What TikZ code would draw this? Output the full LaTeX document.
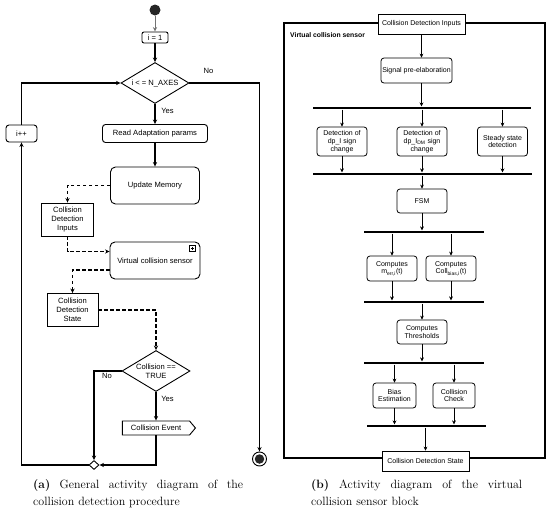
\documentclass[tikz,border=0pt]{standalone}
\usepackage{fontspec}
\setsansfont{Liberation Sans}
\usetikzlibrary{shapes.geometric,shapes.symbols,arrows.meta,calc}
\begin{document}
\begin{tikzpicture}[x=1pt,y=-1pt,
  >={Stealth[length=4.5pt,width=4.2pt]},
  L/.style={line width=1.2pt},
  R/.style={line width=0.8pt,-{Stealth[length=4pt,width=3.8pt]}},
  dsh/.style={line width=1.2pt,dash pattern=on 3.5pt off 2.5pt},
  lft/.style={font=\sffamily\fontsize{7.6}{9.2}\selectfont},
  act/.style={lft,draw,line width=0.9pt,rounded corners=3pt,fill=white,align=center,inner sep=1pt},
  obj/.style={lft,draw,line width=0.9pt,fill=white,align=center,inner sep=1pt},
  dia/.style={lft,diamond,draw,line width=0.9pt,fill=white,align=center,inner sep=0pt,aspect=1.66,minimum width=68pt,minimum height=41pt},
  rgt/.style={font=\sffamily\fontsize{7}{7.7}\selectfont},
  ract/.style={rgt,draw,line width=0.8pt,rounded corners=3pt,fill=white,align=center,inner sep=1pt},
  robj/.style={rgt,draw,line width=0.8pt,fill=white,align=center,inner sep=1pt},
  bar/.style={fill=black,inner sep=0pt,minimum height=2.8pt},
  captxt/.style={anchor=north west,inner sep=0pt,align=justify,font=\fontsize{12}{17}\selectfont}
]
\useasboundingbox (0,0) rectangle (550,512);

% ---------------- left panel ----------------
\node[circle,fill=black!85,minimum size=11pt,inner sep=0pt] (start) at (155,10) {};
\node[act,rounded corners=2pt,minimum width=26pt,minimum height=11pt] (i1) at (155,37.5) {i = 1};
\node[dia] (d1) at (155,83) {i < = N\_AXES};
\node[act,minimum width=105pt,minimum height=18pt] (rap) at (155,133.5) {Read Adaptation params};
\node[act,minimum width=31pt,minimum height=17pt] (ipp) at (21.5,133.5) {i++};
\node[act,rounded corners=5pt,minimum width=89pt,minimum height=37pt] (um) at (155,185.5) {Update Memory};
\node[obj,minimum width=52pt,minimum height=33pt] (cdi) at (67.5,219.5) {Collision\\Detection\\Inputs};
\node[act,rounded corners=5pt,minimum width=90pt,minimum height=37pt] (vcs) at (155,260.5) {Virtual collision sensor};
\node[obj,minimum width=51pt,minimum height=33pt] (cds) at (72.5,310) {Collision\\Detection\\State};
\node[dia] (d2) at (156,371) {Collision ==\\TRUE};
\node[lft,signal,signal to=east,signal pointer angle=100,draw,line width=0.9pt,fill=white,minimum width=73pt,minimum height=14pt,inner sep=1pt] (ce) at (156,428) {Collision Event};
\node[diamond,draw,line width=0.9pt,fill=white,minimum width=10pt,minimum height=9pt,inner sep=0pt] (m) at (94,465) {};
\node[circle,draw,line width=0.9pt,minimum size=14pt,inner sep=0pt] (end) at (259.5,459) {};
\node[circle,fill=black!85,minimum size=9.5pt,inner sep=0pt] (endin) at (end) {};

% sub-activity icon
\draw[line width=0.6pt] (189.5,245.5) rectangle (195,251);
\draw[line width=0.6pt] (192.25,246.8) -- (192.25,249.7) (190.8,248.25) -- (193.7,248.25);

\node[lft] (no1) at (208.5,71) {No};
\node[lft] (yes1) at (167.5,111) {Yes};
\node[lft] (no2) at (107,376) {No};
\node[lft] (yes2) at (167.5,399) {Yes};

\draw[line width=0.9pt,black!55,->] (start) -- (i1);
\draw[L,->] (i1) -- (d1);
\draw[L,->] (d1) -- (rap);
\draw[L,->] (rap) -- (um);
\draw[L,->] (d1.east) -| (end);
\draw[L,->] (m.west) -| (ipp.south);
\draw[L,->] (ipp.north) |- (d1.west);
\draw[dsh,->] (um.west) -| (cdi.north);
\draw[dsh,->] (cdi.south) |- ([yshift=9pt]vcs.west);
\draw[dsh,->] ([yshift=-9.5pt]vcs.west) -| (cds.north);
\draw[dsh,->] (cds.east) -| (d2.north);
\draw[L,->] (d2.south) -- (d2.south |- ce.north);
\draw[L,->] (d2.west) -| (m.north);
\draw[L,->] (d2.south |- ce.south) |- (m.east);

% ---------------- right panel ----------------
\draw[line width=2pt] (284,23) rectangle (545,458);
\node[rgt,font=\sffamily\bfseries\fontsize{6.8}{8}\selectfont,anchor=west,inner sep=0pt] (vlab) at (290,35) {Virtual collision sensor};
\node[robj,minimum width=87pt,minimum height=20pt] (rcdi) at (421.5,24) {Collision Detection Inputs};
\node[ract,minimum width=71pt,minimum height=25pt] (spe) at (416.5,70.5) {Signal pre-elaboration};
\node[bar,minimum width=218pt] (b1) at (422,108) {};
\node[ract,minimum width=50pt,minimum height=29pt] (det1) at (342,141.5) {Detection of\\dp\_I sign\\change};
\node[ract,minimum width=50pt,minimum height=29pt] (det2) at (422,141.5) {Detection of\\dp\_I\textsubscript{DM} sign\\change};
\node[ract,minimum width=50pt,minimum height=29pt] (ssd) at (502.5,141.5) {Steady state\\detection};
\node[bar,minimum width=219pt] (b2) at (422.5,174) {};
\node[ract,minimum width=50pt,minimum height=24pt] (fsm) at (422,201) {FSM};
\node[bar,minimum width=120pt] (b3) at (424,232) {};
\node[ract,minimum width=50pt,minimum height=25pt] (cm) at (392,268.5) {Computes\\m\textsubscript{err,i}(t)};
\node[ract,minimum width=50pt,minimum height=25pt] (cc) at (451,268.5) {Computes\\Coll\textsubscript{bias,i}(t)};
\node[bar,minimum width=120pt] (b4) at (424,302) {};
\node[ract,minimum width=50pt,minimum height=24pt] (th) at (422,332) {Computes\\Thresholds};
\node[bar,minimum width=120pt] (b5) at (424,363) {};
\node[ract,minimum width=43pt,minimum height=25pt] (be) at (394.5,395.5) {Bias\\Estimation};
\node[ract,minimum width=42pt,minimum height=25pt] (ck) at (454,395.5) {Collision\\Check};
\node[bar,minimum width=119pt] (b6) at (426.5,426) {};
\node[robj,minimum width=87pt,minimum height=20pt] (rcds) at (425.5,461) {Collision Detection State};

\draw[R] (rcdi.south) -- (rcdi.south |- spe.north);
\draw[R] (rcdi.south |- spe.south) -- (rcdi.south |- b1.north);
\draw[R] (b1.south -| det1.north) -- (det1.north);
\draw[R] (b1.south -| det2.north) -- (det2.north);
\draw[R] (b1.south -| ssd.north) -- (ssd.north);
\draw[R] (det1.south) -- (det1.south |- b2.north);
\draw[R] (det2.south) -- (det2.south |- b2.north);
\draw[R] (ssd.south) -- (ssd.south |- b2.north);
\draw[R] (b2.south -| fsm.north) -- (fsm.north);
\draw[R] (fsm.south) -- (fsm.south |- b3.north);
\draw[R] (b3.south -| cm.north) -- (cm.north);
\draw[R] (b3.south -| cc.north) -- (cc.north);
\draw[R] (cm.south) -- (cm.south |- b4.north);
\draw[R] (cc.south) -- (cc.south |- b4.north);
\draw[R] (b4.south -| th.north) -- (th.north);
\draw[R] (th.south) -- (th.south |- b5.north);
\draw[R] (b5.south -| be.north) -- (be.north);
\draw[R] (b5.south -| ck.north) -- (ck.north);
\draw[R] (be.south) -- (be.south |- b6.north);
\draw[R] (ck.south) -- (ck.south |- b6.north);
\draw[R] (b6.south -| rcds.north) -- (rcds.north);

% ---------------- captions ----------------
\node[captxt,text width=210pt] (capa) at (33,479) {\textbf{(a)} General activity diagram of the\linebreak collision detection procedure};
\node[captxt,text width=211pt] (capb) at (311,479) {\textbf{(b)} Activity diagram of the virtual\linebreak collision sensor block};
\end{tikzpicture}
\end{document}
